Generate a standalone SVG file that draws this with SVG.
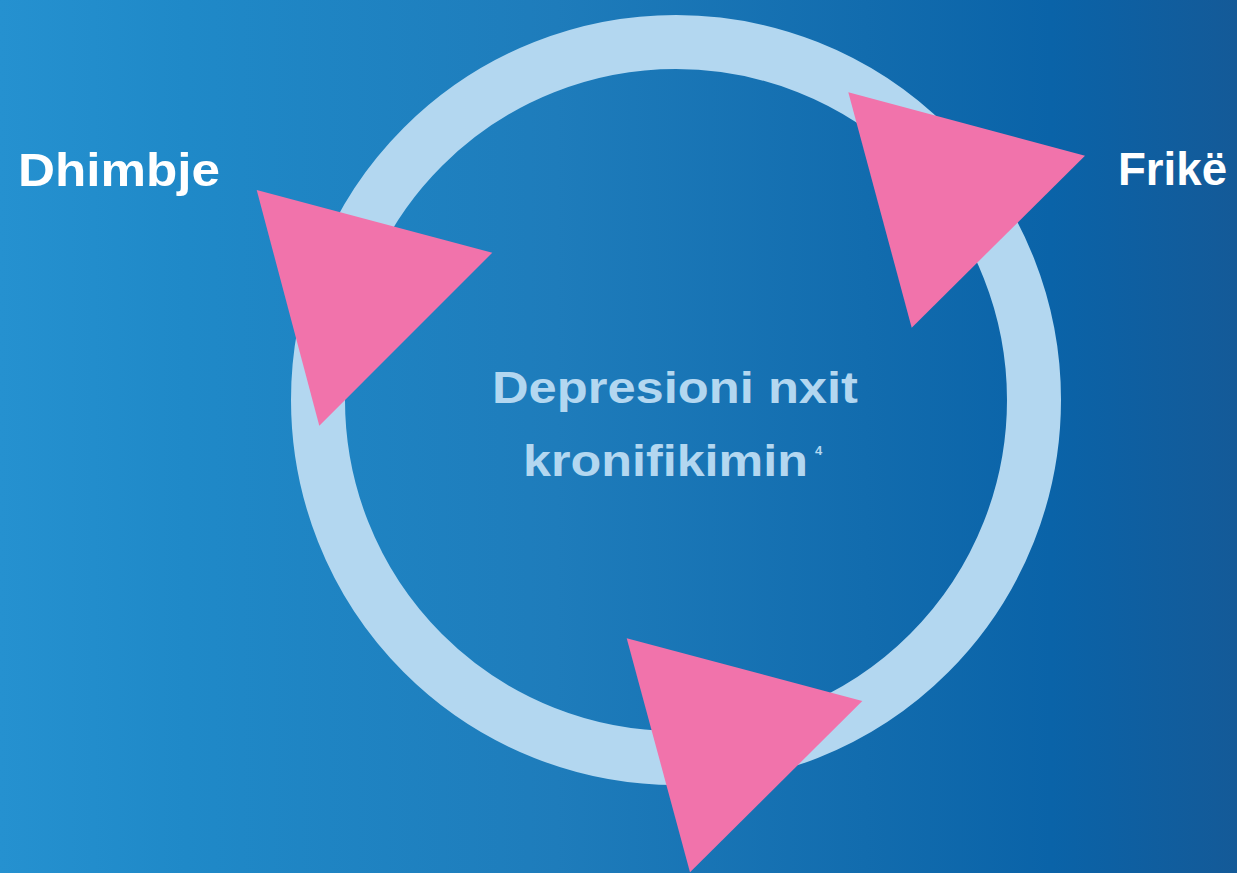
<svg xmlns="http://www.w3.org/2000/svg" width="1237" height="873" viewBox="0 0 1237 873">
  <defs>
    <linearGradient id="bg" x1="0" y1="0" x2="1" y2="0">
      <stop offset="0" stop-color="#2591d0"/>
      <stop offset="0.15" stop-color="#1f89c8"/>
      <stop offset="0.45" stop-color="#1e7cbb"/>
      <stop offset="0.7" stop-color="#126cae"/>
      <stop offset="0.85" stop-color="#0a63a8"/>
      <stop offset="1" stop-color="#145a98"/>
    </linearGradient>
    <style>
      .label { font-family: "Liberation Sans", Arial, sans-serif; font-weight: bold; fill: #ffffff; font-size: 47px; }
      .center { font-family: "Liberation Sans", Arial, sans-serif; font-weight: bold; fill: #b3d7f0; font-size: 44px; }
      .sup { font-family: "Liberation Sans", Arial, sans-serif; font-weight: bold; fill: #b3d7f0; font-size: 13px; }
      .tri { fill: #f173ab; }
      .ring { fill: none; stroke: #b3d7f0; stroke-width: 54; }
    </style>
  </defs>
  <rect x="0" y="0" width="1237" height="873" fill="url(#bg)"/>
  <g id="cycle">
    <circle class="ring" cx="676" cy="400" r="358"/>
  </g>
  <g id="connectors">
    <polygon class="tri" points="256.7,190 492.3,252.7 319.3,425.7"/>
    <polygon class="tri" points="848.3,92.3 1085,155.7 911.7,327.7"/>
    <polygon class="tri" points="626.7,638.3 862.3,701 690,872.3"/>
  </g>
  <g id="node-dhimbje">
    <text class="label" x="18" y="186" textLength="202" lengthAdjust="spacingAndGlyphs">Dhimbje</text>
  </g>
  <g id="node-frike">
    <text class="label" x="1118" y="185" textLength="109" lengthAdjust="spacingAndGlyphs">Frikë</text>
  </g>
  <g id="node-center">
    <text class="center" x="492" y="403" textLength="366" lengthAdjust="spacingAndGlyphs">Depresioni nxit</text>
    <text class="center" x="523" y="476" textLength="285" lengthAdjust="spacingAndGlyphs">kronifikimin</text>
    <text class="sup" x="815" y="455">4</text>
  </g>
</svg>
